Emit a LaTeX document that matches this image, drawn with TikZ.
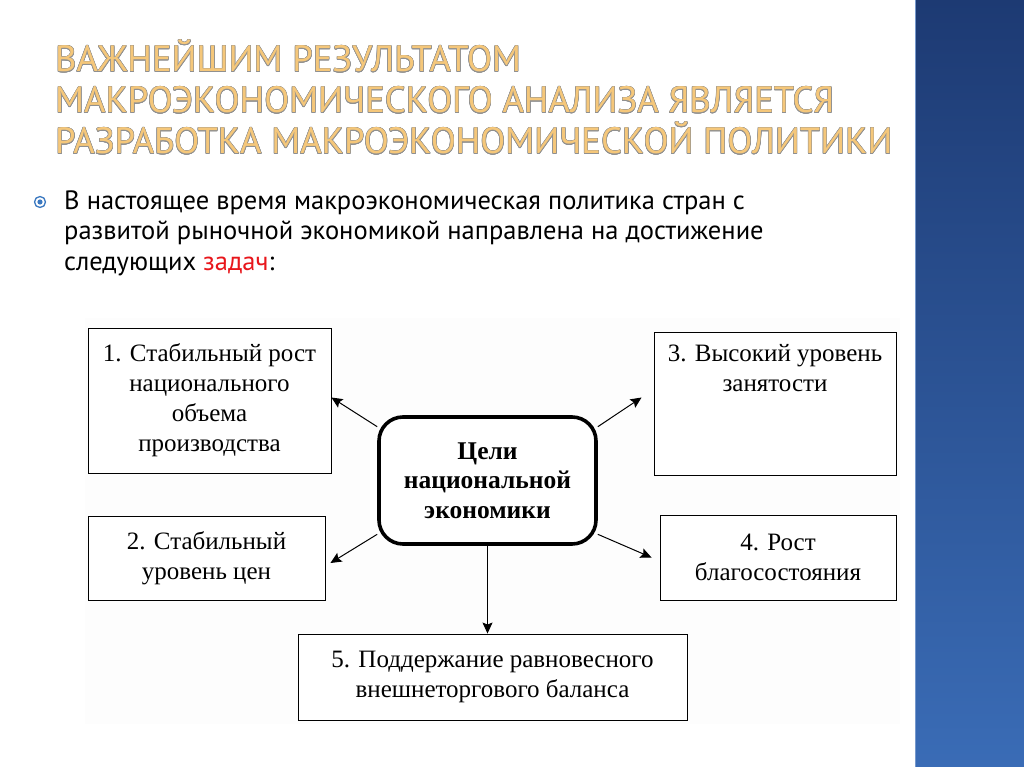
\documentclass[tikz,border=0pt]{standalone}
\usepackage{fontspec}
\usetikzlibrary{arrows.meta}
\usepackage{contour}
\contourlength{0.45pt}
\newfontfamily\ttlfont{PT Sans}
\newfontfamily\bodyfont{PT Sans}
\newfontfamily\tnr{Liberation Serif}
\definecolor{gold}{HTML}{F5C77A}
\definecolor{ttlgray}{HTML}{909090}
\definecolor{bulblue}{HTML}{3A78C0}
\definecolor{redw}{HTML}{E8161B}
\definecolor{paneltop}{HTML}{1D3A73}
\definecolor{panelbot}{HTML}{3A6CB6}
\definecolor{diagbg}{HTML}{FDFDFD}
\tikzset{
  goal/.style={draw=black, line width=0.9pt, fill=white, inner sep=0pt, align=center,
    font=\tnr\fontsize{25}{30}\selectfont},
  hub/.style={draw=black, line width=3.6pt, rounded corners=24pt, fill=white, inner sep=0pt,
    align=center, font=\tnr\bfseries\fontsize{25.5}{29.5}\selectfont},
  link/.style={line width=1pt, -{Stealth[length=11pt,width=10pt,inset=2pt]}},
  ttl/.style={anchor=base west, inner sep=0pt, font=\ttlfont\fontsize{36.6}{41}\selectfont},
  body/.style={anchor=base west, inner sep=0pt, font=\bodyfont\fontsize{26.5}{30}\selectfont}
}
\newcommand{\ttlline}[1]{\contour{ttlgray}{\textcolor{gold}{#1}}}
\begin{document}
\begin{tikzpicture}[x=1pt,y=-1pt]
\useasboundingbox (0,0) rectangle (1024,767);
\fill[white] (0,0) rectangle (1024,767);
% right panel
\shade[top color=paneltop, bottom color=panelbot] (915,0) rectangle (1024,767);
\draw[line width=1.2pt, color=panelbot!70!white] (915.5,0) -- (915.5,767);
% title
\node[ttl] (t1) at (55,72) {\ttlline{ВАЖНЕЙШИМ РЕЗУЛЬТАТОМ}};
\node[ttl] (t2) at (55,113) {\ttlline{МАКРОЭКОНОМИЧЕСКОГО АНАЛИЗА ЯВЛЯЕТСЯ}};
\node[ttl] (t3) at (55,154) {\ttlline{РАЗРАБОТКА МАКРОЭКОНОМИЧЕСКОЙ ПОЛИТИКИ}};
% bullet
\node[circle, draw=bulblue, line width=1.3pt, minimum size=11pt, inner sep=0pt] (bul) at (40,202) {};
\fill[bulblue] (bul.center) circle (2.6pt);
\node[body] (b1) at (64,210) {В настоящее время макроэкономическая политика стран с};
\node[body] (b2) at (64,240) {развитой рыночной экономикой направлена на достижение};
\node[body] (b3) at (64,270) {следующих \textcolor{redw}{задач}:};
% diagram background
\fill[diagbg] (85,318) rectangle (900,724);
% boxes
\node[goal, minimum width=243pt, minimum height=145pt] (g1) at (209.5,400.5)
  {1. Стабильный рост\\национального\\объема\\производства};
\node[goal, minimum width=237pt, minimum height=84pt] (g2) at (206.5,558)
  {2. Стабильный\\уровень цен};
\node[goal] (g3) at (775,403.5)
  {\parbox[c][143pt][t]{242pt}{\centering\vspace{12pt}3. Высокий уровень\\занятости}};
\node[goal, minimum width=236pt, minimum height=85pt] (g4) at (778,557.5)
  {4. Рост\\благосостояния};
\node[goal, minimum width=389pt, minimum height=86pt] (g5) at (492.5,677)
  {5. Поддержание равновесного\\внешнеторгового баланса};
\node[hub, minimum width=217pt, minimum height=127pt] (c) at (487.5,480.5)
  {Цели\\национальной\\экономики};
% connectors
\draw[link] (c.154) -- ([yshift=3pt]g1.east);
\draw[link] (c.206) -- ([xshift=5pt,yshift=-5pt]g2.east);
\draw[link] (c.26) -- ([xshift=-12pt,yshift=6pt]g3.west);
\draw[link] (c.334) -- ([xshift=-8pt]g4.west);
\draw[link] (c.south) -- (c.south |- g5.north);
\end{tikzpicture}
\end{document}
